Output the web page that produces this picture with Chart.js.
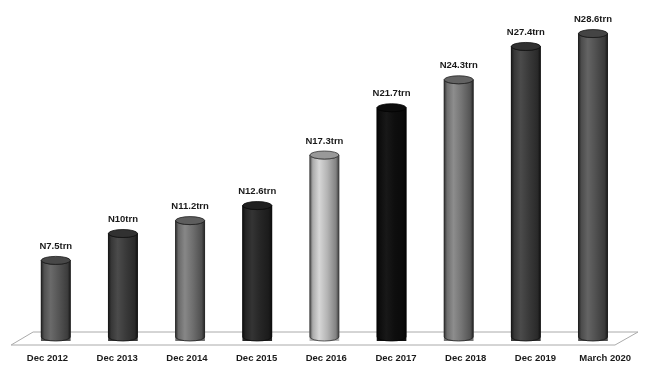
<!DOCTYPE html>
<html>
<head>
<meta charset="utf-8">
<script src="https://cdn.jsdelivr.net/npm/chart.js@4/dist/chart.umd.min.js"></script>
<style>
  html, body { margin: 0; padding: 0; background: #fff; }
  #wrap { width: 650px; height: 370px; }
</style>
</head>
<body>
<div id="wrap"><canvas id="debtChart"></canvas></div>
<script>
// Data
const categories = ['Dec 2012', 'Dec 2013', 'Dec 2014', 'Dec 2015', 'Dec 2016', 'Dec 2017', 'Dec 2018', 'Dec 2019', 'March 2020'];
const debtValues = [7.5, 10, 11.2, 12.6, 17.3, 21.7, 24.3, 27.4, 28.6];
const valueLabels = ['N7.5trn', 'N10trn', 'N11.2trn', 'N12.6trn', 'N17.3trn', 'N21.7trn', 'N24.3trn', 'N27.4trn', 'N28.6trn'];

// grey level of each cylinder
const barShades = [85, 58, 110, 38, 180, 14, 116, 58, 80];

function grey(g) {
    g = Math.max(0, Math.min(255, Math.round(g)));
    return 'rgb(' + g + ',' + g + ',' + g + ')';
}

// Floor + cylinder look
const cylinderPlugin = {
    id: 'cylinders',
    beforeDatasetsDraw(chart) {
        const c = chart.ctx, a = chart.chartArea;
        const y0 = chart.scales.y.getPixelForValue(0);
        c.save();
        c.beginPath();
        c.moveTo(a.left + 20.5, y0 - 9);
        c.lineTo(a.right - 2, y0 - 9);
        c.lineTo(a.right - 25, y0 + 4);
        c.lineTo(a.left - 1.5, y0 + 4);
        c.closePath();
        c.fillStyle = '#fff';
        c.fill();
        c.strokeStyle = '#aaa';
        c.lineWidth = 1;
        c.stroke();
        c.restore();
    },
    afterDatasetsDraw(chart) {
        const c = chart.ctx;
        const meta = chart.getDatasetMeta(0);
        const ry = 4;
        c.save();
        meta.data.forEach((bar, i) => {
            const p = bar.getProps(['x', 'y', 'base', 'width'], true);
            const rx = p.width / 2;
            const top = p.y, bottom = p.base - ry;
            const s = barShades[i];

            const g = c.createLinearGradient(p.x - rx, 0, p.x + rx, 0);
            g.addColorStop(0, grey(s * 0.45));
            g.addColorStop(0.1, grey(s * 0.95));
            g.addColorStop(0.32, grey(s * 1.15 + 8));
            g.addColorStop(0.6, grey(s));
            g.addColorStop(0.9, grey(s * 0.72));
            g.addColorStop(1, grey(s * 0.35));

            c.beginPath();
            c.moveTo(p.x - rx, top);
            c.lineTo(p.x - rx, bottom);
            c.ellipse(p.x, bottom, rx, ry, 0, Math.PI, 0, true);
            c.lineTo(p.x + rx, top);
            c.ellipse(p.x, top, rx, ry, 0, 0, Math.PI, false);
            c.closePath();
            c.fillStyle = g;
            c.fill();
            c.strokeStyle = grey(s * 0.3);
            c.lineWidth = 0.8;
            c.stroke();

            // top face
            c.beginPath();
            c.ellipse(p.x, top, rx, ry, 0, 0, Math.PI * 2);
            c.fillStyle = grey(s * 0.85);
            c.fill();
            c.strokeStyle = grey(s * 0.3);
            c.stroke();

            // value label
            c.fillStyle = '#1a1a1a';
            c.font = 'bold 9.5px "Liberation Sans", Arial, sans-serif';
            c.textAlign = 'center';
            c.textBaseline = 'middle';
            c.fillText(valueLabels[i], p.x, top - ry - 10);
        });
        c.restore();
    }
};

const ctx = document.getElementById('debtChart').getContext('2d');
new Chart(ctx, {
    type: 'bar',
    data: {
        datasets: [{
            data: debtValues.map((v, i) => ({ x: i, y: v })),
            backgroundColor: barShades.map(grey),
            borderWidth: 0,
            barThickness: 29,
            xAxisID: 'x',
            yAxisID: 'y'
        }]
    },
    options: {
        responsive: true,
        maintainAspectRatio: false,
        animation: false,
        layout: { padding: { left: 12.6, right: 10, top: 18.5, bottom: 6.6 } },
        plugins: { legend: { display: false }, tooltip: { enabled: false } },
        scales: {
            x: { type: 'linear', display: false, offset: false, min: -0.643, max: 8.70 },
            labelsX: {
                type: 'category',
                labels: categories,
                position: 'bottom',
                offset: true,
                grid: { display: false, drawTicks: false },
                border: { display: false },
                afterFit: (scale) => { scale.height = 22.4; },
                ticks: {
                    padding: 11.6,
                    color: '#1a1a1a',
                    maxRotation: 0,
                    autoSkip: false,
                    font: { family: '"Liberation Sans", Arial, sans-serif', size: 9.5, weight: 'bold' }
                }
            },
            y: { display: false, min: 0, max: 30 }
        }
    },
    plugins: [cylinderPlugin]
});
</script>
</body>
</html>
